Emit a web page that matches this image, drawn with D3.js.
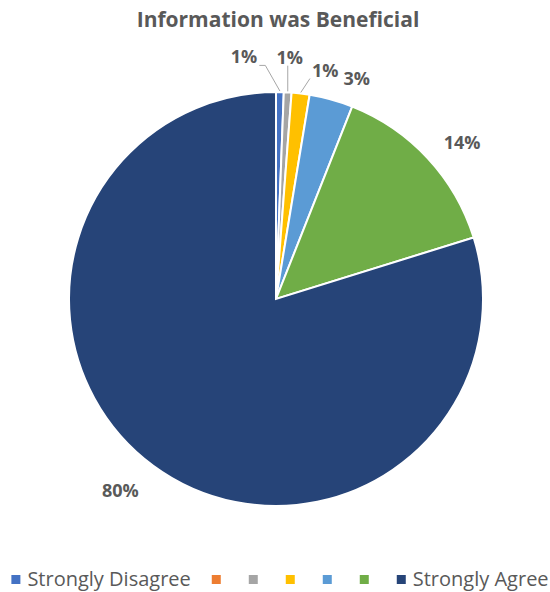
<!DOCTYPE html>
<html>
<head>
<meta charset="utf-8">
<script src="https://cdn.jsdelivr.net/npm/d3@7"></script>
<style>
  body { margin: 0; background: #fff; }
  text { font-family: "Open Sans", sans-serif; fill: #595959; }
</style>
</head>
<body>
<div id="chart"></div>
<script>
// DATA
const categories = ["Strongly Disagree", "", "", "", "", "", "Strongly Agree"];
const shares = [0.006, 0, 0.006, 0.014, 0.034, 0.142, 0.798];
const colors = ["#4472C4", "#ED7D31", "#A5A5A5", "#FFC000", "#5B9BD5", "#70AD47", "#264478"];
// label nudges: angle (degrees) and radius, Excel pushes the small labels apart
const labelShift = [-8.6, 0, 5.3, 4.6, 2.8, 2.7];
const labelRadius = [244, 242, 234, 235, 243, 247];

const width = 550;
const height = 592;
const cx = 276, cy = 299, radius = 207;

const svg = d3.select("#chart")
    .append("svg")
        .attr("width", width)
        .attr("height", height);

// title
svg.append("text")
    .attr("x", 278)
    .attr("y", 27)
    .attr("text-anchor", "middle")
    .attr("font-size", 21)
    .attr("font-weight", "bold")
    .text("Information was Beneficial");

const rows = categories.map((c, i) => ({cat: c, value: shares[i], color: colors[i], idx: i}));

const pie = d3.pie()
    .sort(null)
    .value(d => d.value);
const arcs = pie(rows);

const arc = d3.arc()
    .innerRadius(0)
    .outerRadius(radius);

const g = svg.append("g")
    .attr("transform", `translate(${cx},${cy})`);

g.selectAll("path")
    .data(arcs.filter(d => d.data.value > 0))
    .join("path")
        .attr("d", arc)
        .attr("fill", d => d.data.color)
        .attr("stroke", "#fff")
        .attr("stroke-width", 2);

// labels
const fmt = d3.format(".0%");
const labelled = arcs.filter(d => d.data.value > 0);
labelled.forEach((d, k) => {
    const mid = (d.startAngle + d.endAngle) / 2;
    const a = mid + labelShift[k] * Math.PI / 180;
    const lx = Math.sin(a) * labelRadius[k];
    const ly = -Math.cos(a) * labelRadius[k];
    const t = g.append("text")
        .attr("x", lx)
        .attr("y", ly)
        .attr("dy", "0.35em")
        .attr("text-anchor", "middle")
        .attr("font-size", 18)
        .attr("font-weight", "bold")
        .text(fmt(d.data.value));

    // leader line for the tiny slices
    if (d.data.value < 0.02) {
        const bb = t.node().getBBox();
        const px = Math.sin(mid) * (radius + 1);
        const py = -Math.cos(mid) * (radius + 1);
        const ex = Math.max(bb.x - 2, Math.min(px, bb.x + bb.width + 2));
        const ey = Math.max(bb.y, Math.min(py, bb.y + bb.height - 3));
        const pts = [[px, py]];
        if (Math.abs(ex - px) > 15) pts.push([ex + (px > ex ? 6 : -6), ey]);
        pts.push([ex, ey]);
        g.append("path")
            .attr("d", d3.line()(pts))
            .attr("fill", "none")
            .attr("stroke", "#A6A6A6")
            .attr("stroke-width", 1);
    }
});

// legend
const legend = svg.append("g");
const gap = 21;
let xPos = 0;
rows.forEach(d => {
    const item = legend.append("g").attr("transform", `translate(${xPos},0)`);
    item.append("rect")
        .attr("x", 0)
        .attr("y", -11)
        .attr("width", 9)
        .attr("height", 9)
        .attr("fill", d.color);
    const t = item.append("text")
        .attr("x", 16)
        .attr("y", 0)
        .attr("font-size", 20)
        .text(d.cat);
    const tw = d.cat ? t.node().getComputedTextLength() : 0;
    xPos += 16 + tw + gap;
});
const legendW = xPos - gap;
legend.attr("transform", `translate(${(width - legendW) / 2 + 5},586)`);
</script>
</body>
</html>
